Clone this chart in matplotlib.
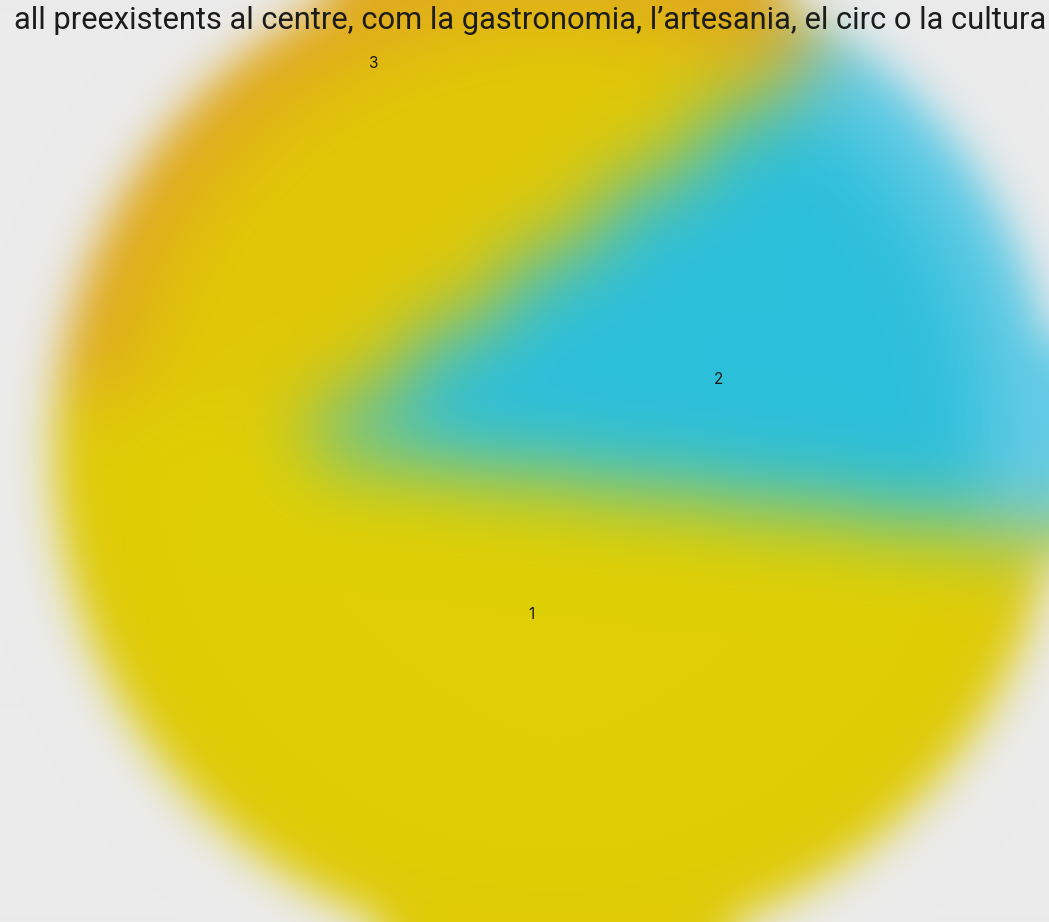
import numpy as np
import matplotlib
matplotlib.use("Agg")
import matplotlib.pyplot as plt

# data
labels = ["1", "2", "3"]
values = [49, 19, 32]
colors = ["#dfcf04", "#2cbfdb", "#e0c806"]
rim_colors = ["#dfca06", "#68cce6", "#e0a820"]
title = "all preexistents al centre, com la gastronomia, l’artesania, el circ o la cultura"

W, H, DPI = 1049, 922, 100
BG = "#ebebeb"
CX, CY, R = 557, 472, 503      # pie centre and radius, pixels from bottom-left
START = 173
label_dist = [0.33, 0.35, 0.85]


def render(layers, bg):
    # draw pie layers sharp, return the pixels
    fig = plt.figure(figsize=(W / DPI, H / DPI), dpi=DPI, facecolor=bg)
    ax = fig.add_axes([0, 0, 1, 1])
    for radius, cols, centre in layers:
        ax.pie(values, colors=cols, startangle=START, radius=radius,
               center=centre, wedgeprops=dict(linewidth=0))
    ax.set_xlim(-CX / R, (W - CX) / R)
    ax.set_ylim(-CY / R, (H - CY) / R)
    ax.set_aspect("auto")
    ax.axis("off")
    fig.canvas.draw()
    img = np.asarray(fig.canvas.buffer_rgba())[..., :3].astype(float) / 255
    plt.close(fig)
    return img


def blur(img, sigma):
    k = int(3 * sigma)
    x = np.arange(-k, k + 1)
    g = np.exp(-x ** 2 / (2.0 * sigma ** 2))
    g /= g.sum()
    p = np.pad(img, ((k, k), (k, k), (0, 0)), mode="edge")
    p = np.apply_along_axis(lambda v: np.convolve(v, g, mode="same"), 1, p)
    p = np.apply_along_axis(lambda v: np.convolve(v, g, mode="same"), 0, p)
    return p[k:-k, k:-k]


# colour field: full pie past the edge, inner pie, then slice 2 smeared leftwards
layers = [(3.0, rim_colors, (0, 0)), (0.86, colors, (0, 0))]
only2 = ["none", colors[1], "none"]
for k in range(1, 6):
    layers.append((1 - 0.17 * k, only2, (-0.1 * k, 0.0)))
col = blur(render(layers, BG), 40)

# circle mask, softer edge
mask = 1 - render([(1.0, ["black"] * 3, (0, 0))], "white")[..., :1]
mask = blur(mask, 22)
bg = np.array(matplotlib.colors.to_rgb(BG))
out = np.clip(mask * col + (1 - mask) * bg, 0, 1)

fig = plt.figure(figsize=(W / DPI, H / DPI), dpi=DPI, facecolor=BG)
ax = fig.add_axes([0, 0, 1, 1])
ax.imshow(out, extent=(0, W, 0, H), origin="upper", interpolation="bilinear")
ax.set_xlim(0, W)
ax.set_ylim(0, H)
ax.axis("off")

# slice labels
ends = START + np.cumsum(values) / np.sum(values) * 360
mids = np.radians(ends - np.array(values) / np.sum(values) * 180)
for lab, a, d in zip(labels, mids, label_dist):
    ax.text(CX + d * R * np.cos(a), CY + d * R * np.sin(a), lab,
            ha="center", va="center", fontsize=11, color="#1a1a1a",
            family=["Inter", "DejaVu Sans"])

fig.text(1046 / W, 1 - 29 / H, title, ha="right", va="baseline",
         fontsize=22.2, color="#1c1c1c", family=["Roboto", "DejaVu Sans"])

fig.savefig("out.png", dpi=DPI, facecolor=BG)
